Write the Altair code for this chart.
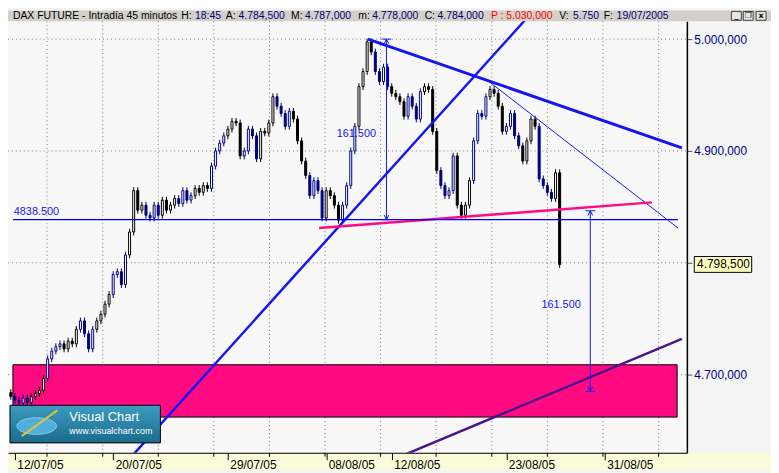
import math
import altair as alt
import pandas as pd

# ---------------- data ----------------
# 45-minute closes (4 sampled bars per trading day), read off the picture
closes = [
    4680.5, 4677, 4674.5, 4679, 4675, 4680.5, 4683, 4686, 4696.5, 4714,
    4721, 4725, 4727.5, 4723, 4730, 4727.5, 4740.5, 4748, 4736.5, 4723,
    4740.5, 4748, 4754, 4763, 4771.5, 4789.5, 4792, 4780.5, 4807, 4827.5,
    4864.5, 4847, 4851.5, 4842.5, 4840, 4851.5, 4842.5, 4856, 4847, 4851.5,
    4857.5, 4853, 4864.5, 4856, 4860, 4866.5, 4863, 4869, 4866.5, 4886.5,
    4900, 4907, 4913.5, 4919.5, 4926.5, 4925, 4895.5, 4900, 4919.5, 4913.5,
    4893, 4917.5, 4916, 4925, 4948.5, 4940, 4933.5, 4922, 4935.5, 4928.5,
    4909, 4891, 4878, 4860, 4873.5, 4864.5, 4840, 4864.5, 4860, 4851.5,
    4838, 4851.5, 4869, 4900, 4922, 4957.5, 4971, 4997.5, 4988.5, 4971,
    4962, 4975, 4957.5, 4951.5, 4948.5, 4944, 4931, 4948.5, 4940, 4928.5,
    4953, 4957.5, 4955, 4917.5, 4882.5, 4869, 4860, 4864.5, 4895.5, 4851.5,
    4842.5, 4851.5, 4873.5, 4909, 4933.5, 4931, 4948.5, 4955, 4951.5, 4940,
    4917.5, 4922, 4933.5, 4913.5, 4904.5, 4891, 4909, 4928.5, 4922, 4875,
    4869, 4863, 4857.5, 4880.5, 4798.5,
]
first_open = 4684.0
bars_per_day = 4
first_bar_day = -0.25

date_labels = ["12/07/05", "20/07/05", "29/07/05", "08/08/05", "12/08/05", "23/08/05", "31/08/05"]
date_days = [0, 6, 13, 19, 23, 30, 36]
grid_days = [1.96, 5.36, 8.75, 12.14, 15.54, 18.93, 22.32, 25.71, 29.11, 32.5, 35.89, 39.29]

price_ticks = [4700, 4800, 4900, 5000]
price_labels = ["4.700,000", "", "4.900,000", "5.000,000"]

line_names = ["rising", "falling", "falling_thin", "support", "channel", "level", "measure1", "measure2"]
line_d1 = [7.0, 21.55, 28.87, 18.57, 23.5, -0.12, 22.68, 35.12]
line_p1 = [4624.8, 5000.0, 4962.8, 4831.0, 4626.6, 4838.5, 5000.0, 4846.5]
line_d2 = [31.5, 40.71, 40.48, 38.87, 40.71, 40.48, 22.68, 35.12]
line_p2 = [5022.9, 4902.8, 4831.0, 4854.0, 4731.9, 4838.5, 4838.5, 4685.0]

zone_d = [-0.12, 40.42]
zone_p = [4662.0, 4708.8]

ann_text = ["4838.500", "161.500", "161.500"]
ann_d = [-0.07, 19.64, 32.14]
ann_p = [4845.1, 4915.0, 4761.9]

last_price = 4798.5
last_label = "4.798,500"

header_parts = ["DAX FUTURE - Intradía 45 minutos", "H:", "18:45", "A:", "4.784,500", "M:", "4.787,000",
                "m:", "4.778,000", "C:", "4.784,000", "P : 5.030,000", "V:", "5.750", "F:", "19/07/2005"]
header_kind = ["k", "k", "v", "k", "v", "k", "v", "k", "v", "k", "v", "r", "k", "v", "k", "v"]

# ---------------- style ----------------
FONT = "Liberation Sans"
BLACK, NAVY = "#000000", "#000080"
BLUE = "#1414f5"
PINK = "#ff0a80"
PURPLE = "#4a148c"
PLOT_BG = "#f8f8f8"
PANEL_BG = "#f4f4f4"
HEADER_BG = "#d4d0c8"
BAND_BG = "#fbfbd9"
W, H = 686, 436
PAD = {"left": 0, "top": 11, "right": 85, "bottom": 18}
TOTAL_W = W + PAD["left"] + PAD["right"]
WICK = 3.0
header_x = [13, 183, 197, 228, 241, 294, 308, 362, 376, 429, 442, 496, 565, 579, 610, 623]
kind_color = {"k": "#000000", "v": "#000080", "r": "#ff0000"}
line_style = {
    "rising": (BLUE, 2.5), "falling": (BLUE, 3.0), "falling_thin": (BLUE, 1.0),
    "support": (PINK, 2.5), "channel": (PURPLE, 2.5), "level": ("#0000ff", 1.2),
    "measure1": (BLUE, 1.0), "measure2": (BLUE, 1.0),
}

x_min, x_max = (8 - 10) / 16.8, (694 - 10) / 16.8
y_min, y_max = 4630.09, 5015.93

XS = alt.Scale(domain=[x_min, x_max], nice=False, zero=False)
YS = alt.Scale(domain=[y_min, y_max], nice=False, zero=False)

x_expr = "".join(f"datum.value == {d} ? '{l}' : " for d, l in zip(date_days, date_labels)) + "''"
y_expr = "".join(f"datum.value == {p} ? '{l}' : " for p, l in zip(price_ticks, price_labels)) + "''"

XAX = alt.Axis(values=date_days, labelExpr=x_expr, title=None, grid=False, domain=True,
               domainColor="#000000", tickColor="#000000", tickSize=7, labelAlign="left",
               labelOffset=2, labelPadding=0, labelBaseline="top", labelFont=FONT,
               labelFontSize=12, labelColor="#000000", labelFlush=False, zindex=1)
YAX = alt.Axis(values=price_ticks, labelExpr=y_expr, title=None, grid=False, orient="right",
               domain=True, domainColor="#000000", domainWidth=1.5, tickColor="#555555", tickSize=5,
               labelPadding=2, labelFont=FONT, labelFontSize=12, labelColor="#000080",
               labelAlign="left", labelBaseline="middle", zindex=1)


def X(f):
    return alt.X(f, type="quantitative", scale=XS, axis=XAX)


def Y(f):
    return alt.Y(f, type="quantitative", scale=YS, axis=YAX)


one = pd.DataFrame({"a": [0]})

# ---------------- tables ----------------
rows = []
opens = [first_open] + closes[:-1]
for i, c in enumerate(closes):
    o = opens[i]
    d = first_bar_day + i / bars_per_day
    col = BLACK if math.floor(d) % 2 else NAVY
    up = c >= o
    rows.append(dict(d=d, o=o, c=c, hi=max(o, c) + WICK, lo=min(o, c) - WICK,
                     col=col, fill="#ffffff" if up else col))
candles = pd.DataFrame(rows)

lines = pd.DataFrame({"name": line_names, "d1": line_d1, "p1": line_p1, "d2": line_d2, "p2": line_p2})
lines["color"] = [line_style[n][0] for n in line_names]
lines["w"] = [line_style[n][1] for n in line_names]

meas = lines[lines["name"].str.startswith("measure")]
caps_top = pd.DataFrame({"d": list(meas["d1"]), "p": list(meas["p1"])})
caps_bot = pd.DataFrame({"d": list(meas["d2"]), "p": list(meas["p2"])})

zone = pd.DataFrame({"d1": [zone_d[0]], "d2": [zone_d[1]], "p1": [zone_p[0]], "p2": [zone_p[1]]})
grid_x = pd.DataFrame({"d": grid_days})
grid_y = pd.DataFrame({"p": price_ticks})
ann = pd.DataFrame({"txt": ann_text, "d": ann_d, "p": ann_p})
last = pd.DataFrame({"p": [last_price], "txt": [last_label]})

layers = []
# background bands
layers.append(alt.Chart(one).mark_rect(fill=BAND_BG).encode(
    x=alt.value(0), x2=alt.value(TOTAL_W), y=alt.value(H), y2=alt.value(H + PAD["bottom"])))
layers.append(alt.Chart(one).mark_rect(fill=HEADER_BG).encode(
    x=alt.value(0), x2=alt.value(TOTAL_W), y=alt.value(-PAD["top"]), y2=alt.value(0)))
# grid
layers.append(alt.Chart(grid_x).mark_rule(color="#7a7a7a", strokeDash=[1, 3], strokeWidth=1).encode(
    x=X("d"), y=alt.value(0), y2=alt.value(H)))
layers.append(alt.Chart(grid_y).mark_rule(color="#7a7a7a", strokeDash=[1, 3], strokeWidth=1).encode(
    y=Y("p"), x=alt.value(0), x2=alt.value(W)))
layers.append(alt.Chart(grid_x).mark_rule(color="#000000", strokeWidth=1).encode(
    x=X("d"), y=alt.value(H), y2=alt.value(H + 4)))
# pink zone
layers.append(alt.Chart(zone).mark_rect(fill=PINK, stroke="#000000", strokeWidth=1, clip=True).encode(
    x=X("d1"), x2=alt.X2("d2"), y=Y("p1"), y2=alt.Y2("p2")))
# candles
layers.append(alt.Chart(candles).mark_rule(strokeWidth=1, clip=True).encode(
    x=X("d"), y=Y("lo"), y2=alt.Y2("hi"), color=alt.Color("col:N", scale=None)))
layers.append(alt.Chart(candles).mark_bar(size=2, strokeWidth=1, clip=True).encode(
    x=X("d"), y=Y("o"), y2=alt.Y2("c"),
    fill=alt.Fill("fill:N", scale=None), stroke=alt.Stroke("col:N", scale=None)))
# trend lines
layers.append(alt.Chart(lines).mark_rule(clip=True).encode(
    x=X("d1"), x2=alt.X2("d2"), y=Y("p1"), y2=alt.Y2("p2"),
    color=alt.Color("color:N", scale=None), strokeWidth=alt.StrokeWidth("w:Q", scale=None)))
# measurement caps
for df in (caps_top, caps_bot):
    layers.append(alt.Chart(df).mark_point(shape="stroke", size=100, stroke=BLUE, strokeWidth=1,
                                           opacity=1).encode(x=X("d"), y=Y("p")))
layers.append(alt.Chart(caps_top).mark_point(shape="M-0.8,1.6L0,0L0.8,1.6", size=36, stroke=BLUE,
                                             strokeWidth=1, filled=False, opacity=1).encode(x=X("d"), y=Y("p")))
layers.append(alt.Chart(caps_bot).mark_point(shape="M-0.8,-1.6L0,0L0.8,-1.6", size=36, stroke=BLUE,
                                             strokeWidth=1, filled=False, opacity=1).encode(x=X("d"), y=Y("p")))
# annotations
layers.append(alt.Chart(ann).mark_text(align="left", baseline="middle", font=FONT, fontSize=11,
                                       color=BLUE).encode(x=X("d"), y=Y("p"), text="txt:N"))
# last price tag
layers.append(alt.Chart(last).mark_point(shape="M-1,-0.276L1,-0.276L1,0.276L-1,0.276Z", size=3364,
                                         filled=True, fill="#ffffc0", stroke="#000000", strokeWidth=1,
                                         opacity=1).encode(x=alt.value(722.5), y=Y("p")))
layers.append(alt.Chart(last).mark_text(align="center", baseline="middle", font=FONT, fontSize=12,
                                        color="#000000").encode(x=alt.value(723), y=Y("p"), text="txt:N"))
# logo
logo_grad = alt.LinearGradient(gradient="linear", x1=0, x2=0, y1=0, y2=1,
                               stops=[alt.GradientStop(color="#3b9cc0", offset=0),
                                      alt.GradientStop(color="#1c6b8c", offset=1)])
layers.append(alt.Chart(one).mark_rect(fill=logo_grad, stroke="#000000", strokeWidth=1).encode(
    x=alt.value(2), x2=alt.value(154), y=alt.value(388), y2=alt.value(426)))
layers.append(alt.Chart(one).mark_point(shape="M-1,0A1,0.42,0,1,1,1,0A1,0.42,0,1,1,-1,0Z", size=1600,
                                        filled=True, fill="#56b4e0", stroke="#8fd6f5", strokeWidth=1,
                                        opacity=0.9).encode(x=alt.value(29), y=alt.value(409)))
layers.append(alt.Chart(one).mark_rule(color="#f2c12e", strokeWidth=2).encode(
    x=alt.value(14), x2=alt.value(50), y=alt.value(419), y2=alt.value(393)))
layers.append(alt.Chart(one).mark_text(align="left", baseline="middle", font=FONT, fontSize=13,
                                       color="#ffffff", text="Visual Chart").encode(
    x=alt.value(62), y=alt.value(400)))
layers.append(alt.Chart(one).mark_text(align="left", baseline="middle", font=FONT, fontSize=9,
                                       color="#ffffff", text="www.visualchart.com").encode(
    x=alt.value(62), y=alt.value(414)))
# header text
for txt, k, hx in zip(header_parts, header_kind, header_x):
    layers.append(alt.Chart(one).mark_text(align="left", baseline="middle", font=FONT, fontSize=10.5,
                                           color=kind_color[k], text=txt).encode(
        x=alt.value(hx - 8), y=alt.value(-5.5)))
# window buttons
for bx, glyph in zip([731, 743, 756], ["_", "❐", "x"]):
    layers.append(alt.Chart(one).mark_rect(fill="#e8e6e0", stroke="#404040", strokeWidth=1).encode(
        x=alt.value(bx), x2=alt.value(bx + 10), y=alt.value(-10), y2=alt.value(-1)))
    layers.append(alt.Chart(one).mark_text(align="center", baseline="middle", font="DejaVu Sans",
                                           fontSize=8, fontWeight="bold", color="#000000", text=glyph).encode(
        x=alt.value(bx + 5), y=alt.value(-5.5)))

chart = alt.layer(*layers).properties(
    width=W, height=H, padding=PAD, autosize="none", background=PANEL_BG
).configure_view(fill=PLOT_BG, strokeWidth=0)

chart.save("out.html", embed_options={"renderer": "svg", "actions": False})
